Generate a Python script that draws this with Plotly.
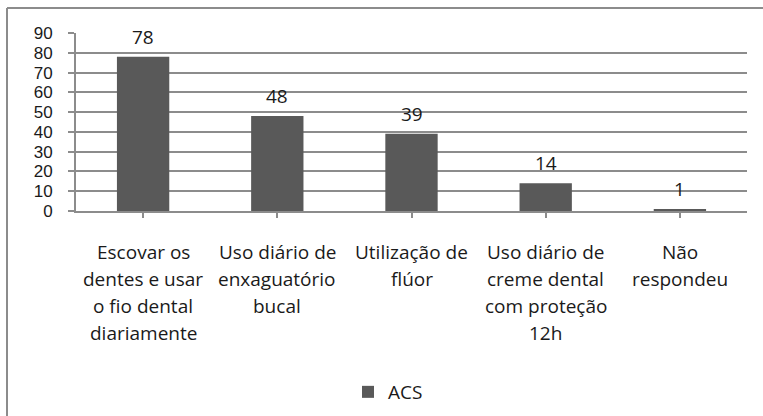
import plotly.graph_objects as go

# Survey answers (ACS) and their counts
categories = [
    "Escovar os<br>dentes e usar<br>o fio dental<br>diariamente",
    "Uso diário de<br>enxaguatório<br>bucal",
    "Utilização de<br>flúor",
    "Uso diário de<br>creme dental<br>com proteção<br>12h",
    "Não<br>respondeu",
]
values = [78, 48, 39, 14, 1]
series_name = "ACS"
y_ticks = [0, 10, 20, 30, 40, 50, 60, 70, 80, 90]

W, H = 763, 416
ML, MR, MT, MB = 76, 16, 33, 205
PW, PH = W - ML - MR, H - MT - MB

FONT = "Open Sans, Liberation Sans, sans-serif"
TICK_FONT = "Liberation Sans, Arial, sans-serif"
TXT = "#1a1a1a"
GRID = "#8c8c8c"
BAR = "#595959"

x_idx = list(range(len(categories)))

fig = go.Figure()
fig.add_trace(go.Bar(
    x=x_idx, y=values, name=series_name,
    marker=dict(color=BAR, line=dict(width=0)),
    showlegend=True,
))

annotations = []
# value labels above each bar
for i, v in enumerate(values):
    annotations.append(dict(
        x=i, y=v, xref="x", yref="y", text=str(v), showarrow=False,
        yanchor="bottom", xanchor="center", yshift=5,
        font=dict(family=FONT, size=19, color=TXT),
    ))
# category labels, one line at a time for wider line spacing
for i, label in enumerate(categories):
    for k, line in enumerate(label.split("<br>")):
        annotations.append(dict(
            x=i, y=0, xref="x", yref="y", text=line, showarrow=False,
            yanchor="top", xanchor="center", yshift=-(25.5 + 27.3 * k),
            font=dict(family=FONT, size=19, color=TXT),
        ))

# outer frame (top and left edges)
fx = (7 - ML) / PW
fy = (H - MB - 8) / PH
shapes = [
    dict(type="line", xref="paper", yref="paper", x0=fx, x1=(W - ML) / PW + 0.01,
         y0=fy, y1=fy, line=dict(color=GRID, width=2)),
    dict(type="line", xref="paper", yref="paper", x0=fx, x1=fx,
         y0=fy, y1=-MB / PH - 0.01, line=dict(color=GRID, width=2)),
]

fig.update_layout(
    width=W, height=H,
    margin=dict(l=ML, r=MR, t=MT, b=MB, autoexpand=False),
    paper_bgcolor="white", plot_bgcolor="white",
    bargap=0.61,
    font=dict(family=FONT, size=19, color=TXT),
    xaxis=dict(
        range=[-0.5, len(categories) - 0.5],
        tickvals=x_idx, showticklabels=False,
        tickson="boundaries", ticks="outside", ticklen=5, tickwidth=2, tickcolor=GRID,
        showgrid=False, showline=True, linecolor=GRID, linewidth=2, zeroline=False,
    ),
    yaxis=dict(
        range=[0, 90], tickvals=y_ticks,
        ticks="outside", ticklen=6, tickwidth=2, tickcolor=GRID,
        ticklabelstandoff=12,
        showgrid=True, gridcolor=GRID, gridwidth=2,
        showline=True, linecolor=GRID, linewidth=2, zeroline=False,
        tickfont=dict(family=TICK_FONT, size=17, color=TXT),
    ),
    legend=dict(
        orientation="h", x=(348 - ML) / PW, xanchor="left",
        y=-(392 - (H - MB)) / PH, yanchor="middle",
        font=dict(family=FONT, size=19, color=TXT),
        bgcolor="rgba(0,0,0,0)",
    ),
    annotations=annotations,
    shapes=shapes,
)

fig.write_html("out.html")
